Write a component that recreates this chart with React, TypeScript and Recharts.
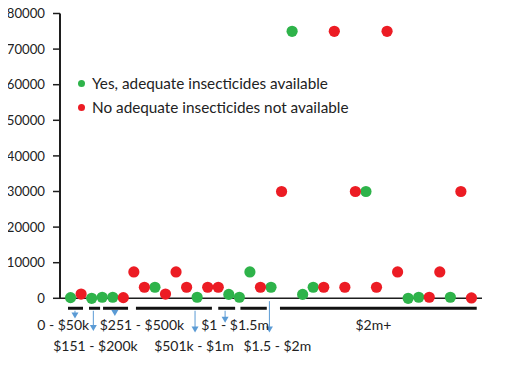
import { ScatterChart, Scatter, XAxis, YAxis, Legend, ReferenceLine, ReferenceDot } from "recharts";

// one dot per respondent, left to right
const VALUES = [
  200, 1200, 0, 300, 300, 200, 7400, 3100, 3100, 1200,
  7400, 3100, 300, 3100, 3100, 1100, 300, 7400, 3100, 3100,
  30000, 75000, 1100, 3100, 3100, 75000, 3100, 30000, 30000, 3100,
  75000, 7400, 0, 300, 300, 7400, 300, 30000, 100,
];
const AVAILABLE = [
  "yes", "no", "yes", "yes", "yes", "no", "no", "no", "yes", "no",
  "no", "no", "yes", "no", "no", "yes", "yes", "yes", "no", "yes",
  "no", "yes", "yes", "yes", "no", "no", "no", "no", "yes", "no",
  "no", "no", "yes", "yes", "no", "no", "yes", "no", "no",
];

const Y_TICKS = [0, 10000, 20000, 30000, 40000, 50000, 60000, 70000, 80000];
const X_TICKS = [0, 10, 20, 30, 40];

const CATEGORIES = ["0 - $50k", "$151 - $200k", "$251 - $500k", "$501k - $1m", "$1 - $1.5m", "$1.5 - $2m", "$2m+"];
const CATEGORY_FROM = [0.76, 2.75, 4.08, 7.2, 15.0, 17.1, 20.85];
const CATEGORY_TO = [2.18, 3.8, 6.45, 14.4, 16.6, 19.6, 39.5];

// annotation layout, in axis units
const LABEL_X = [0.3, 3.36, 7.77, 12.7, 16.6, 20.6, 29.7];
const LABEL_ROW = [0, 1, 0, 1, 0, 1, 0];
const ARROW_X = [1.42, 3.16, 5.2, 12.8, 15.65, 19.85];
const ARROW_TIP = [-5700, -9200, -5000, -9600, -6900, -9600];
const ROW_Y = [-7250, -13150];
const BRACKET_Y = -2800;

const SERIES_NAMES = ["Yes, adequate insecticides available", "No adequate insecticides not available"];

const GREEN = "#2EB34A";
const RED = "#EC1C24";
const ARROW = "#5B9BD5";
const INK = "#1E1E1E";
const FONT = "Lato, 'Noto Sans', sans-serif";

const points = VALUES.map((v, i) => ({ x: i + 1, y: v, ok: AVAILABLE[i] }));
const yesData = points.filter((p) => p.ok === "yes");
const noData = points.filter((p) => p.ok === "no");

const dot = (color: string) => (props: any) => (
  <circle cx={props.cx} cy={props.cy} r={5.6} fill={color} />
);

const arrowShape = (props: any) => {
  const { x1, y1, x2, y2 } = props;
  return (
    <g>
      <line x1={x1} y1={y1} x2={x2} y2={y2 - 5} stroke={ARROW} strokeWidth={1} />
      <polygon points={`${x2 - 3.5},${y2 - 6} ${x2 + 3.5},${y2 - 6} ${x2},${y2}`} fill={ARROW} />
    </g>
  );
};

const renderLegend = (props: any) => {
  const items = (props.payload || [])
    .slice()
    .sort((a: any, b: any) => SERIES_NAMES.indexOf(a.value) - SERIES_NAMES.indexOf(b.value));
  return (
    <div style={{ fontFamily: FONT, fontSize: 15.3, color: "#222" }}>
      {items.map((item: any) => (
        <div key={item.value} style={{ display: "flex", alignItems: "center", height: 24 }}>
          <span
            style={{ width: 7, height: 7, borderRadius: "50%", background: item.color, marginRight: 7 }}
          />
          <span>{item.value}</span>
        </div>
      ))}
    </div>
  );
};

export default function App() {
  return (
    <div style={{ margin: -8, width: 506, height: 367 }}>
      <ScatterChart width={506} height={367} margin={{ top: 13.5, right: 24, bottom: 38.7, left: 0 }}>
        <XAxis
          type="number"
          dataKey="x"
          domain={[0, 40]}
          ticks={X_TICKS}
          tick={false}
          tickSize={5}
          height={30}
          axisLine={{ stroke: INK, strokeWidth: 1.5 }}
          tickLine={{ stroke: INK, strokeWidth: 1.5 }}
        />
        <YAxis
          type="number"
          dataKey="y"
          domain={[0, 80000]}
          ticks={Y_TICKS}
          width={60}
          tickSize={7}
          tickMargin={8}
          axisLine={{ stroke: INK, strokeWidth: 2 }}
          tickLine={{ stroke: INK, strokeWidth: 1.5 }}
          tick={{ fill: "#222", fontSize: 13.2, fontFamily: FONT }}
        />
        <Legend
          layout="horizontal"
          verticalAlign="middle"
          align="center"
          content={renderLegend}
          wrapperStyle={{ top: 71, left: 78, width: 330 }}
        />
        {CATEGORIES.map((c, i) => (
          <ReferenceLine
            key={`b-${c}`}
            segment={[
              { x: CATEGORY_FROM[i], y: BRACKET_Y },
              { x: CATEGORY_TO[i], y: BRACKET_Y },
            ]}
            stroke="#111"
            strokeWidth={3}
            ifOverflow="visible"
          />
        ))}
        {ARROW_X.map((ax, i) => (
          <ReferenceLine
            key={`a-${i}`}
            segment={[
              { x: ax, y: i === 5 ? -800 : -3500 },
              { x: ax, y: ARROW_TIP[i] },
            ]}
            ifOverflow="visible"
            shape={arrowShape}
          />
        ))}
        {CATEGORIES.map((c, i) => (
          <ReferenceDot
            key={`l-${c}`}
            x={LABEL_X[i]}
            y={ROW_Y[LABEL_ROW[i]]}
            r={0}
            ifOverflow="visible"
            shape={(p: any) => (
              <text
                x={p.cx}
                y={p.cy}
                textAnchor="middle"
                dominantBaseline="central"
                fontSize={14}
                fontFamily={FONT}
                fill="#222"
              >
                {c}
              </text>
            )}
          />
        ))}
        <Scatter
          name={SERIES_NAMES[0]}
          data={yesData}
          fill={GREEN}
          shape={dot(GREEN)}
          isAnimationActive={false}
        />
        <Scatter
          name={SERIES_NAMES[1]}
          data={noData}
          fill={RED}
          shape={dot(RED)}
          isAnimationActive={false}
        />
      </ScatterChart>
    </div>
  );
}
